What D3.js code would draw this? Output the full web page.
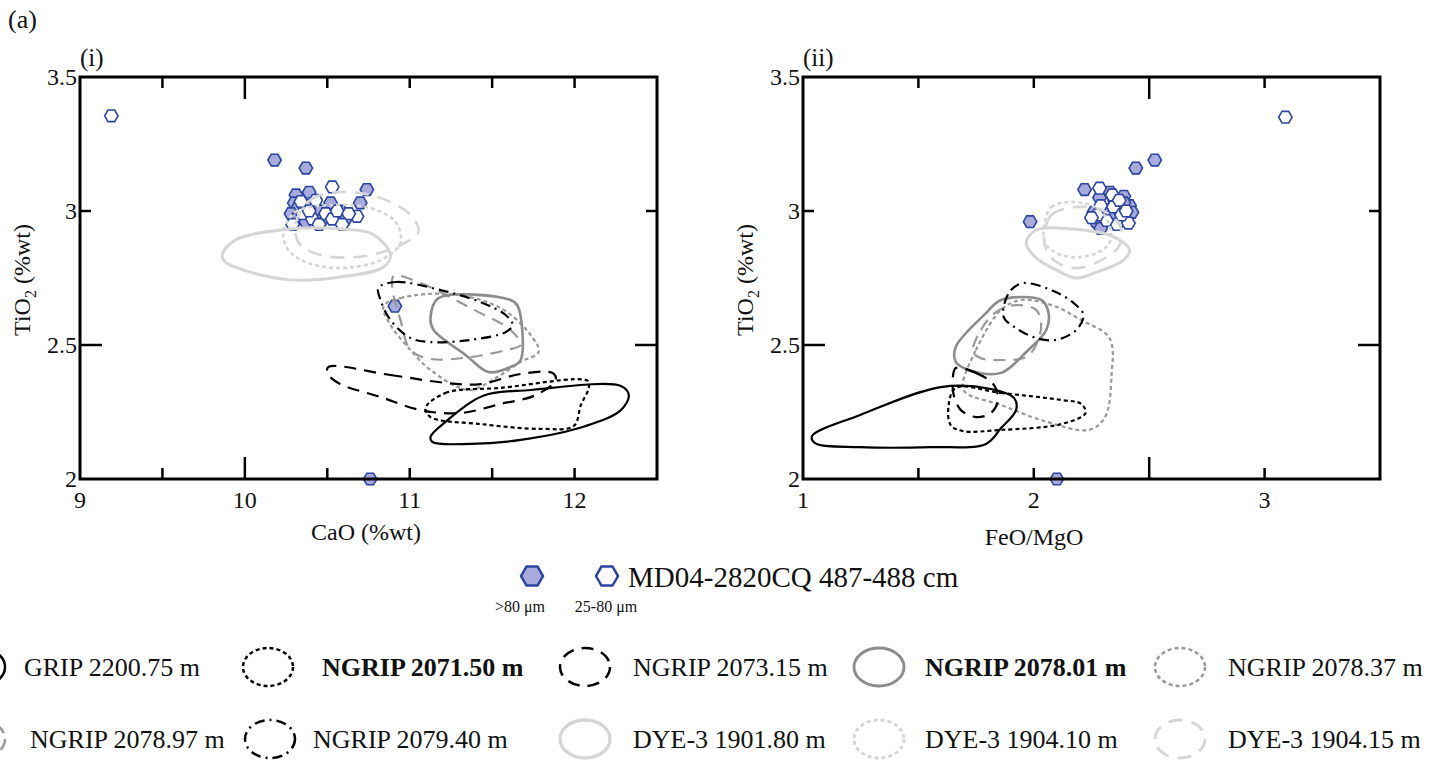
<!DOCTYPE html>
<html lang="en">
<head>
<meta charset="utf-8">
<script src="https://d3js.org/d3.v7.min.js"></script>
<style>
  body { margin: 0; background: #fff; }
  text { font-family: "Liberation Serif", "Times New Roman", serif; fill: #111; }
</style>
</head>
<body>
<script>
// --- shards of MD04-2820CQ 487-488 cm, panel (i): [CaO, TiO2]
var caoBig = [[10.18,3.19],[10.37,3.16],[10.74,3.08],[10.70,3.03],[10.39,3.07],[10.31,3.06],
  [10.30,3.03],[10.32,3.01],[10.28,2.99],[10.31,2.97],[10.40,3.02],[10.46,3.00],[10.52,3.03],
  [10.58,3.00],[10.61,2.97],[10.47,2.97],[10.37,2.96],[10.91,2.645],[10.76,2.00]];
var caoSmall = [[9.19,3.355],[10.53,3.09],[10.68,2.98],[10.29,2.95],[10.35,2.99],[10.41,2.97],
  [10.45,2.95],[10.49,2.99],[10.53,2.97],[10.56,3.00],[10.63,2.99],[10.59,2.95],[10.39,3.00],
  [10.34,3.035],[10.43,3.04]];
// panel (ii): [FeO/MgO, TiO2]
var femgBig = [[2.524,3.19],[2.442,3.16],[2.22,3.08],[1.984,2.96],[2.10,2.00],[2.285,3.05],
  [2.33,3.07],[2.35,3.04],[2.39,3.055],[2.415,3.02],[2.425,2.995],[2.37,3.005],[2.31,3.005],
  [2.26,2.995],[2.33,2.975],[2.27,2.96],[2.29,2.935],[2.39,3.03]];
var femgSmall = [[3.09,3.35],[2.285,3.085],[2.36,2.95],[2.41,2.955],[2.34,3.06],[2.29,3.02],
  [2.345,3.015],[2.38,2.985],[2.315,2.965],[2.276,2.985],[2.37,3.04],[2.40,3.00],[2.25,2.975]];

// --- ice-core tephra envelopes (same order in both panels)
var samples = ["GRIP 2200.75 m","NGRIP 2071.50 m","NGRIP 2073.15 m","NGRIP 2078.01 m",
  "NGRIP 2078.37 m","NGRIP 2078.97 m","NGRIP 2079.40 m","DYE-3 1901.80 m",
  "DYE-3 1904.10 m","DYE-3 1904.15 m"];
var boldSamples = ["NGRIP 2071.50 m","NGRIP 2078.01 m"];

var envCaO = [
  [[11.126,2.157],[11.217,2.213],[11.442,2.310],[11.734,2.332],[12.281,2.347],[12.329,2.313],[12.281,2.257],[12.068,2.198],[11.673,2.146],[11.369,2.131],[11.138,2.138]],
  [[11.096,2.265],[11.217,2.321],[11.551,2.340],[12.080,2.366],[12.086,2.340],[12.038,2.276],[11.995,2.198],[11.795,2.187],[11.430,2.205],[11.126,2.231]],
  [[10.507,2.418],[10.883,2.388],[11.230,2.358],[11.430,2.354],[11.673,2.392],[11.868,2.395],[11.886,2.369],[11.764,2.313],[11.551,2.280],[11.309,2.246],[11.066,2.257],[10.823,2.306],[10.567,2.358],[10.501,2.395]],
  [[11.175,2.675],[11.612,2.668],[11.655,2.646],[11.673,2.444],[11.612,2.418],[11.479,2.399],[11.339,2.463],[11.145,2.556],[11.126,2.601]],
  [[10.841,2.645],[10.944,2.675],[11.248,2.690],[11.551,2.638],[11.734,2.537],[11.782,2.474],[11.673,2.437],[11.521,2.377],[11.357,2.332],[11.126,2.407],[11.005,2.481],[10.883,2.575]],
  [[10.902,2.757],[11.066,2.731],[11.369,2.638],[11.612,2.556],[11.673,2.500],[11.582,2.481],[11.369,2.455],[11.126,2.448],[11.005,2.481],[10.944,2.593],[10.896,2.705]],
  [[10.810,2.713],[10.914,2.735],[11.187,2.705],[11.430,2.660],[11.582,2.612],[11.624,2.575],[11.582,2.548],[11.369,2.519],[11.126,2.511],[11.005,2.526],[10.883,2.593],[10.823,2.668]],
  [[9.863,2.836],[9.942,2.892],[10.276,2.933],[10.580,2.933],[10.774,2.914],[10.883,2.836],[10.841,2.791],[10.580,2.754],[10.276,2.743],[10.033,2.772],[9.881,2.810]],
  [[10.233,2.922],[10.306,2.996],[10.519,3.022],[10.762,3.011],[10.914,2.959],[10.944,2.881],[10.823,2.817],[10.580,2.787],[10.367,2.810],[10.264,2.854]],
  [[10.306,2.948],[10.397,3.041],[10.580,3.071],[10.823,3.049],[11.005,2.985],[11.053,2.922],[10.944,2.873],[10.731,2.832],[10.488,2.832],[10.337,2.873]]
];
var envFeMg = [
  [[1.039,2.160],[1.248,2.239],[1.597,2.343],[1.814,2.336],[1.915,2.302],[1.923,2.257],[1.858,2.190],[1.793,2.131],[1.553,2.119],[1.248,2.119],[1.052,2.134]],
  [[1.662,2.340],[1.858,2.321],[2.119,2.295],[2.206,2.280],[2.224,2.246],[2.119,2.205],[1.858,2.183],[1.692,2.179],[1.640,2.201],[1.631,2.276]],
  [[1.662,2.414],[1.749,2.396],[1.827,2.351],[1.845,2.295],[1.814,2.246],[1.749,2.231],[1.684,2.257],[1.653,2.313],[1.649,2.377]],
  [[1.662,2.493],[1.793,2.619],[1.858,2.668],[2.032,2.668],[2.063,2.623],[2.054,2.556],[1.967,2.474],[1.858,2.396],[1.719,2.407],[1.662,2.437]],
  [[1.692,2.351],[1.749,2.481],[1.858,2.631],[1.945,2.668],[2.076,2.649],[2.206,2.593],[2.328,2.526],[2.337,2.388],[2.307,2.228],[2.237,2.183],[2.032,2.220],[1.858,2.276],[1.706,2.321]],
  [[1.736,2.474],[1.771,2.556],[1.836,2.623],[1.923,2.649],[2.010,2.631],[2.032,2.575],[2.010,2.500],[1.967,2.455],[1.858,2.444],[1.771,2.451]],
  [[1.871,2.649],[1.901,2.705],[1.954,2.731],[2.076,2.705],[2.172,2.657],[2.215,2.612],[2.184,2.556],[2.097,2.519],[2.010,2.526],[1.923,2.563],[1.871,2.601]],
  [[1.967,2.881],[2.010,2.929],[2.163,2.933],[2.337,2.907],[2.415,2.854],[2.389,2.817],[2.272,2.772],[2.185,2.750],[2.097,2.780],[2.010,2.825]],
  [[2.045,2.948],[2.076,3.015],[2.163,3.034],[2.272,3.011],[2.328,2.948],[2.328,2.881],[2.272,2.843],[2.163,2.828],[2.076,2.854],[2.045,2.892]],
  [[2.045,2.910],[2.076,2.985],[2.185,3.015],[2.293,3.004],[2.372,2.948],[2.372,2.873],[2.293,2.817],[2.185,2.787],[2.097,2.810],[2.054,2.854]]
];

// line styles for the envelopes
var lineStyles = [
  {c: "#000", w: 2.2, d: null},
  {c: "#000", w: 2.2, d: "4,3"},
  {c: "#000", w: 2.2, d: "12,8"},
  {c: "#8c8c8c", w: 2.6, d: null},
  {c: "#999", w: 2.2, d: "4,3"},
  {c: "#999", w: 2.2, d: "12,8"},
  {c: "#000", w: 2.2, d: "10,5,2,5"},
  {c: "#d6d6d6", w: 3, d: null},
  {c: "#d6d6d6", w: 2.6, d: "4,3"},
  {c: "#d6d6d6", w: 2.6, d: "14,9"}
];

var W = 1446, H = 762;
var svg = d3.select("body").append("svg").attr("width", W).attr("height", H);

var yTop = 77, yBot = 479;
var hexColor = "#2b45a3", hexFill = "#a8aadb";

function hexPath(r) {
  var pts = d3.range(6).map(function(i) {
    var a = i * Math.PI / 3;
    return [r * Math.cos(a), r * Math.sin(a)];
  });
  return "M" + pts.join("L") + "Z";
}

function drawPanel(opt) {
  var x = d3.scaleLinear().domain(opt.xDomain).range([opt.left, opt.right]);
  var y = d3.scaleLinear().domain([2, 3.5]).range([yBot, yTop]);
  var g = svg.append("g");

  // points (under the envelopes)
  var pts = g.append("g");
  pts.selectAll(".big").data(opt.big).enter().append("path")
    .attr("d", hexPath(6.7))
    .attr("transform", function(d) { return "translate(" + x(d[0]) + "," + y(d[1]) + ")"; })
    .attr("fill", hexFill).attr("stroke", hexColor).attr("stroke-width", 1.6);
  pts.selectAll(".small").data(opt.small).enter().append("path")
    .attr("d", hexPath(6.7))
    .attr("transform", function(d) { return "translate(" + x(d[0]) + "," + y(d[1]) + ")"; })
    .attr("fill", "#fff").attr("stroke", hexColor).attr("stroke-width", 1.6);

  var line = d3.line()
    .x(function(d) { return x(d[0]); })
    .y(function(d) { return y(d[1]); })
    .curve(d3.curveCatmullRomClosed.alpha(0.5));

  // draw light ones first so dark ones sit on top
  var order = [7, 8, 9, 4, 5, 3, 6, 2, 1, 0];
  order.forEach(function(i) {
    var s = lineStyles[i];
    g.append("path").attr("d", line(opt.env[i]))
      .attr("fill", "none").attr("stroke", s.c).attr("stroke-width", s.w)
      .attr("stroke-dasharray", s.d).attr("stroke-linejoin", "round");
  });

  // frame
  g.append("rect").attr("x", opt.left).attr("y", yTop)
    .attr("width", opt.right - opt.left).attr("height", yBot - yTop)
    .attr("fill", "none").attr("stroke", "#000").attr("stroke-width", 3);

  // ticks (inward), one long tick per axis
  function tickLen(v, longV) { return Math.abs(v - longV) < 1e-6 ? 22 : 11; }
  opt.xTicks.forEach(function(v) {
    var L = tickLen(v, opt.xLong);
    g.append("line").attr("x1", x(v)).attr("x2", x(v)).attr("y1", yBot).attr("y2", yBot - L)
      .attr("stroke", "#000").attr("stroke-width", 2.5);
    g.append("line").attr("x1", x(v)).attr("x2", x(v)).attr("y1", yTop).attr("y2", yTop + L)
      .attr("stroke", "#000").attr("stroke-width", 2.5);
  });
  [2.5, 3].forEach(function(v) {
    var L = tickLen(v, 2.5);
    g.append("line").attr("x1", opt.left).attr("x2", opt.left + L).attr("y1", y(v)).attr("y2", y(v))
      .attr("stroke", "#000").attr("stroke-width", 2.5);
    g.append("line").attr("x1", opt.right).attr("x2", opt.right - L).attr("y1", y(v)).attr("y2", y(v))
      .attr("stroke", "#000").attr("stroke-width", 2.5);
  });

  // tick labels
  var fmt = function(d) { return String(d); };
  g.selectAll(".xl").data(opt.xLabels).enter().append("text")
    .attr("x", function(d) { return x(d); }).attr("y", yBot + 29)
    .attr("text-anchor", "middle").attr("font-size", 24).text(fmt);
  g.selectAll(".yl").data([2, 2.5, 3, 3.5]).enter().append("text")
    .attr("x", opt.left - 3).attr("y", function(d) { return y(d) + 8; })
    .attr("text-anchor", "end").attr("font-size", 24).text(fmt);

  // titles
  g.append("text").attr("x", opt.left).attr("y", 66).attr("font-size", 25).text(opt.tag);
  g.append("text").attr("x", opt.xTitleX).attr("y", opt.xTitleY)
    .attr("text-anchor", "middle").attr("font-size", 24).text(opt.xTitle);
  var yt = g.append("text").attr("transform", "translate(" + opt.yTitleX + ",280) rotate(-90)")
    .attr("text-anchor", "middle").attr("font-size", 24);
  yt.append("tspan").text("TiO");
  yt.append("tspan").attr("font-size", 16).attr("dy", 6).text("2");
  yt.append("tspan").attr("dy", -6).text(" (%wt)");
}

drawPanel({left: 80, right: 657, xDomain: [9, 12.5], big: caoBig, small: caoSmall, env: envCaO,
  xTicks: [9.5, 10, 10.5, 11, 11.5, 12], xLong: 10, xLabels: [9, 10, 11, 12],
  tag: "(i)", xTitle: "CaO (%wt)", xTitleX: 366, xTitleY: 540, yTitleX: 30});
drawPanel({left: 803, right: 1380, xDomain: [1, 3.5], big: femgBig, small: femgSmall, env: envFeMg,
  xTicks: [1.5, 2, 2.5, 3], xLong: 2.5, xLabels: [1, 2, 3],
  tag: "(ii)", xTitle: "FeO/MgO", xTitleX: 1034, xTitleY: 545, yTitleX: 753});

svg.append("text").attr("x", 8).attr("y", 28).attr("font-size", 26).text("(a)");

// --- legend: MD04 shards
var lg = svg.append("g");
lg.append("path").attr("d", hexPath(11)).attr("transform", "translate(532,576)")
  .attr("fill", hexFill).attr("stroke", hexColor).attr("stroke-width", 2.5);
lg.append("path").attr("d", hexPath(11)).attr("transform", "translate(607,576)")
  .attr("fill", "#fff").attr("stroke", hexColor).attr("stroke-width", 2.5);
lg.append("text").attr("x", 628).attr("y", 587).attr("font-size", 29).text("MD04-2820CQ 487-488 cm");
lg.append("text").attr("x", 520).attr("y", 612).attr("text-anchor", "middle").attr("font-size", 16).text(">80 μm");
lg.append("text").attr("x", 606).attr("y", 612).attr("text-anchor", "middle").attr("font-size", 16).text("25-80 μm");

// --- legend: ice-core envelopes
var colEll = [-20, 268, 585, 879, 1180];
var colTxt = [24, 322, 633, 925, 1228];
var rowY = [667, 739];
samples.forEach(function(name, i) {
  var r = Math.floor(i / 5), c = i % 5;
  var s = lineStyles[i];
  var ex = colEll[c] + (r === 1 && c === 1 ? 2 : 0);
  lg.append("ellipse").attr("cx", ex).attr("cy", rowY[r]).attr("rx", 25).attr("ry", 19)
    .attr("fill", "none").attr("stroke", s.c).attr("stroke-width", s.w + 0.3)
    .attr("stroke-dasharray", s.d);
  lg.append("text").attr("x", colTxt[c] + (r === 1 && c === 0 ? 6 : 0) - (r === 1 && c === 1 ? 9 : 0))
    .attr("y", rowY[r] + 9).attr("font-size", 26)
    .attr("font-weight", boldSamples.indexOf(name) >= 0 ? "bold" : null)
    .text(name);
});
</script>
</body>
</html>
